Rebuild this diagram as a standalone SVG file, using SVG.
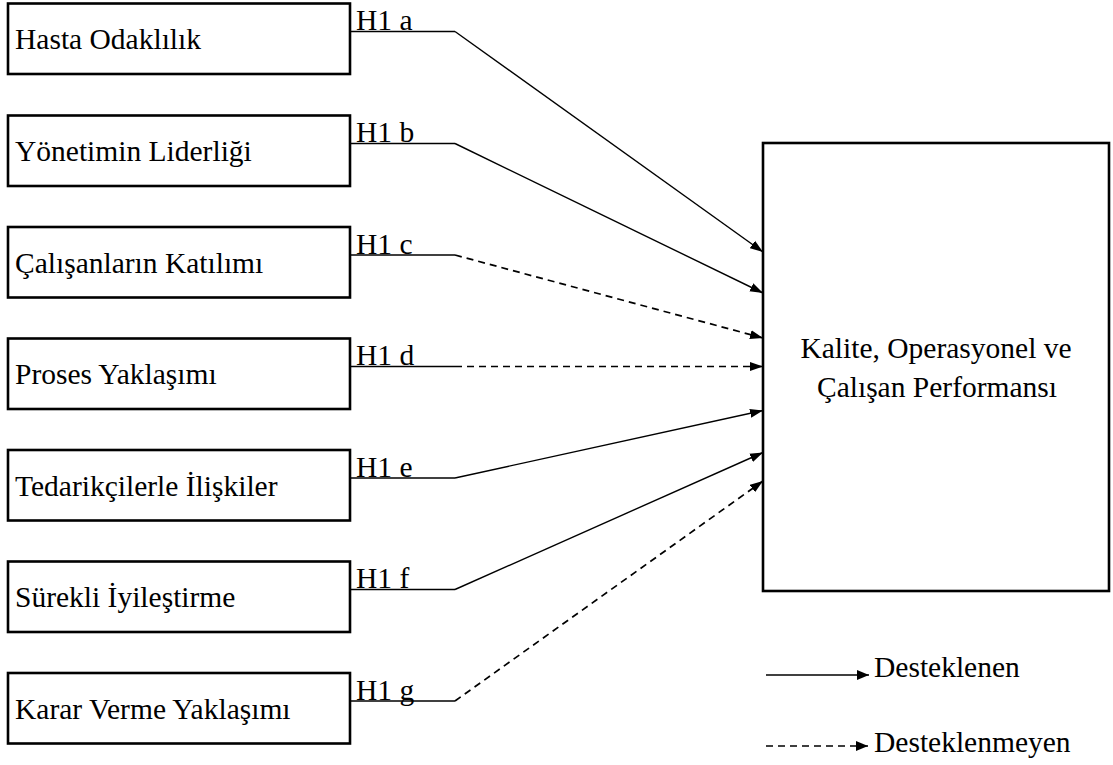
<svg xmlns="http://www.w3.org/2000/svg" width="1113" height="765" viewBox="0 0 1113 765">
<style>
.box{fill:#fff;stroke:#000;stroke-width:2.6}
.t{font-family:"Liberation Serif","Times New Roman",serif;font-size:29.5px;fill:#000}
.ln{fill:none;stroke:#000;stroke-width:1.4}
.ds{stroke-dasharray:7,5;stroke-width:1.7}
</style>
<defs>
<marker id="ah" markerUnits="userSpaceOnUse" markerWidth="14" markerHeight="10" refX="13" refY="5" orient="auto">
<path d="M0,0.5 L13,5 L0,9.5 z" fill="#000"/>
</marker>
<marker id="ahs" markerUnits="userSpaceOnUse" markerWidth="13" markerHeight="12" refX="12" refY="6" orient="auto">
<path d="M0,1 L12,6 L0,11 z" fill="#000"/>
</marker>
</defs>
<rect width="1113" height="765" fill="#fff"/>
<g id="n-a"><rect class="box" x="8" y="3.5" width="342" height="70.5"/><text class="t" x="15" y="49">Hasta Odaklılık</text></g>
<g id="n-b"><rect class="box" x="8" y="115.5" width="342" height="70.5"/><text class="t" x="15" y="161">Yönetimin Liderliği</text></g>
<g id="n-c"><rect class="box" x="8" y="227" width="342" height="70.5"/><text class="t" x="15" y="272.5">Çalışanların Katılımı</text></g>
<g id="n-d"><rect class="box" x="8" y="338.5" width="342" height="70.5"/><text class="t" x="15" y="384">Proses Yaklaşımı</text></g>
<g id="n-e"><rect class="box" x="8" y="450" width="342" height="70.5"/><text class="t" x="15" y="495.5">Tedarikçilerle İlişkiler</text></g>
<g id="n-f"><rect class="box" x="8" y="561.5" width="342" height="70.5"/><text class="t" x="15" y="607">Sürekli İyileştirme</text></g>
<g id="n-g"><rect class="box" x="8" y="673" width="342" height="70.5"/><text class="t" x="15" y="718.5">Karar Verme Yaklaşımı</text></g>
<g id="n-out"><rect class="box" x="763" y="143" width="346" height="448"/>
<text class="t" x="936" y="358" text-anchor="middle">Kalite, Operasyonel ve</text>
<text class="t" x="937" y="397" text-anchor="middle">Çalışan Performansı</text></g>
<g id="connectors">
<line class="ln" x1="350" y1="31.5" x2="455" y2="31.5"/><line class="ln" x1="455" y1="31.5" x2="763" y2="252" marker-end="url(#ah)"/>
<line class="ln" x1="350" y1="143.5" x2="455" y2="143.5"/><line class="ln" x1="455" y1="143.5" x2="763" y2="293" marker-end="url(#ah)"/>
<line class="ln" x1="350" y1="255" x2="455" y2="255"/><line class="ln ds" x1="455" y1="255" x2="763" y2="338" marker-end="url(#ah)"/>
<line class="ln" x1="350" y1="366.5" x2="455" y2="366.5"/><line class="ln ds" x1="455" y1="366.5" x2="763" y2="366.5" marker-end="url(#ah)"/>
<line class="ln" x1="350" y1="478" x2="455" y2="478"/><line class="ln" x1="455" y1="478" x2="763" y2="410.5" marker-end="url(#ah)"/>
<line class="ln" x1="350" y1="589.5" x2="455" y2="589.5"/><line class="ln" x1="455" y1="589.5" x2="763" y2="452.5" marker-end="url(#ah)"/>
<line class="ln" x1="350" y1="701" x2="455" y2="701"/><line class="ln ds" x1="455" y1="701" x2="763" y2="481" marker-end="url(#ah)"/>
</g>
<g id="labels">
<text class="t" x="356" y="30">H1 a</text>
<text class="t" x="356" y="142">H1 b</text>
<text class="t" x="356" y="253.5">H1 c</text>
<text class="t" x="356" y="365">H1 d</text>
<text class="t" x="356" y="476.5">H1 e</text>
<text class="t" x="356" y="588">H1 f</text>
<text class="t" x="356" y="699.5">H1 g</text>
</g>
<g id="legend">
<line class="ln" x1="766" y1="675" x2="869" y2="675" marker-end="url(#ahs)"/>
<text class="t" x="874" y="677">Desteklenen</text>
<line class="ln ds" x1="766" y1="746" x2="868" y2="746" stroke-dasharray="6,5" marker-end="url(#ahs)"/>
<text class="t" x="874" y="752">Desteklenmeyen</text>
</g>
</svg>
